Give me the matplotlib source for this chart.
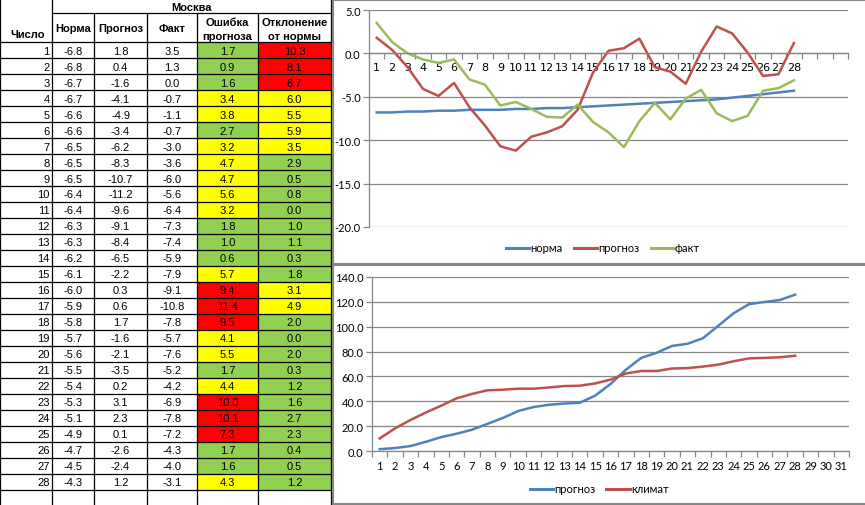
import matplotlib
matplotlib.use("Agg")
import matplotlib.pyplot as plt
from matplotlib.patches import Rectangle
from matplotlib.lines import Line2D

# ---------------- data ----------------
days = list(range(1, 29))
norm = [-6.8, -6.8, -6.7, -6.7, -6.6, -6.6, -6.5, -6.5, -6.5, -6.4, -6.4, -6.3, -6.3, -6.2,
        -6.1, -6.0, -5.9, -5.8, -5.7, -5.6, -5.5, -5.4, -5.3, -5.1, -4.9, -4.7, -4.5, -4.3]
forecast = [1.8, 0.4, -1.6, -4.1, -4.9, -3.4, -6.2, -8.3, -10.7, -11.2, -9.6, -9.1, -8.4, -6.5,
            -2.2, 0.3, 0.6, 1.7, -1.6, -2.1, -3.5, 0.2, 3.1, 2.3, 0.1, -2.6, -2.4, 1.2]
fact = [3.5, 1.3, 0.0, -0.7, -1.1, -0.7, -3.0, -3.6, -6.0, -5.6, -6.4, -7.3, -7.4, -5.9,
        -7.9, -9.1, -10.8, -7.8, -5.7, -7.6, -5.2, -4.2, -6.9, -7.8, -7.2, -4.3, -4.0, -3.1]
error = [1.7, 0.9, 1.6, 3.4, 3.8, 2.7, 3.2, 4.7, 4.7, 5.6, 3.2, 1.8, 1.0, 0.6,
         5.7, 9.4, 11.4, 9.5, 4.1, 5.5, 1.7, 4.4, 10.0, 10.1, 7.3, 1.7, 1.6, 4.3]
deviation = [10.3, 8.1, 6.7, 6.0, 5.5, 5.9, 3.5, 2.9, 0.5, 0.8, 0.0, 1.0, 1.1, 0.3,
             1.8, 3.1, 4.9, 2.0, 0.0, 2.0, 0.3, 1.2, 1.6, 2.7, 2.3, 0.4, 0.5, 1.2]
cum_forecast = [1.7, 2.6, 4.2, 7.6, 11.4, 14.1, 17.3, 22.0, 26.7, 32.3, 35.5, 37.3, 38.3, 38.9,
                44.6, 54.0, 65.4, 74.9, 79.0, 84.5, 86.2, 90.6, 100.6, 110.7, 118.0, 119.7, 121.3, 125.6]
cum_climate = [10.3, 18.4, 25.1, 31.1, 36.6, 42.5, 46.0, 48.9, 49.4, 50.2, 50.2, 51.2, 52.3, 52.6,
               54.4, 57.5, 62.4, 64.4, 64.4, 66.4, 66.7, 67.9, 69.5, 72.2, 74.5, 74.9, 75.4, 76.6]
categories = [str(i) for i in range(1, 32)]
top_labels = categories[:28] + ["", "", ""]

title = "Москва"
headers = ["Число", "Норма", "Прогноз", "Факт", "Ошибка\nпрогноза", "Отклонение\nот нормы"]
legend_top = ["норма", "прогноз", "факт"]
legend_bottom = ["прогноз", "климат"]

# ---------------- style ----------------
BLUE, RED, GREEN = "#4F81BD", "#C0504D", "#9BBB59"
GRID = "#868686"
C_GREEN, C_YELLOW, C_RED = "#92D050", "#FFFF00", "#FF0000"
TFONT = "Liberation Sans"
CFONT = "Lato"
CSIZE = 8
W, H = 865, 506

fig = plt.figure(figsize=(W / 100, H / 100), dpi=100)
fig.patch.set_facecolor("white")

# ---------------- table (pixel coords) ----------------
tab = fig.add_axes([0, 0, 1, 1])
tab.set_xlim(0, W)
tab.set_ylim(H, 0)
tab.axis("off")

cols = [0, 52, 94, 147, 197, 258, 331]
top0, top1, row0, rh = 0, 14, 43, 16
nrows = len(days)


def cell_color(v):
    if v < 3:
        return C_GREEN
    if v <= 6:
        return C_YELLOW
    return C_RED


for i in range(nrows):
    y = row0 + i * rh
    tab.add_patch(Rectangle((cols[4], y), cols[5] - cols[4], rh, facecolor=cell_color(error[i]),
                            edgecolor="none", zorder=1))
    tab.add_patch(Rectangle((cols[5], y), cols[6] - cols[5], rh, facecolor=cell_color(deviation[i]),
                            edgecolor="none", zorder=1))
    yc = y + rh / 2 + 0.5
    tab.text(cols[1] - 2.5, yc, str(days[i]), ha="right", va="center", fontsize=8, family=TFONT, zorder=3)
    vals = [norm[i], forecast[i], fact[i], error[i], deviation[i]]
    for j, v in enumerate(vals):
        xc = (cols[j + 1] + cols[j + 2]) / 2
        tab.text(xc, yc, f"{v:.1f}", ha="center", va="center", fontsize=8, family=TFONT, zorder=3)

lw = 0.9
bottom_y = H
for k, x in enumerate(cols):
    y_start = 0 if k in (0, 1, 6) else top1
    tab.plot([x, x], [y_start, bottom_y], color="black", lw=lw, zorder=2, solid_capstyle="butt")
tab.plot([cols[1], cols[6]], [top1, top1], color="black", lw=lw, zorder=2)
for i in range(nrows + 1):
    y = row0 + i * rh
    tab.plot([cols[0], cols[6]], [y, y], color="black", lw=lw, zorder=2)

tab.text((cols[1] + cols[6]) / 2, 7.5, title, ha="center", va="center", fontsize=8,
         fontweight="bold", family=TFONT)
tab.text(10, 35, headers[0], ha="left", va="center", fontsize=8, fontweight="bold", family=TFONT)
for j in range(1, 4):
    tab.text((cols[j] + cols[j + 1]) / 2, 29, headers[j], ha="center", va="center", fontsize=8,
             fontweight="bold", family=TFONT)
for j in (4, 5):
    l1, l2 = headers[j].split("\n")
    xc = (cols[j] + cols[j + 1]) / 2
    tab.text(xc, 23, l1, ha="center", va="center", fontsize=8, fontweight="bold", family=TFONT)
    tab.text(xc, 36.5, l2, ha="center", va="center", fontsize=8, fontweight="bold", family=TFONT)

# chart frames
tab.add_patch(Rectangle((333, 0.5), 540, 264.5, facecolor="white", edgecolor=GRID, lw=1.5, zorder=4))
tab.add_patch(Rectangle((333, 265.5), 540, 239, facecolor="white", edgecolor=GRID, lw=1.5, zorder=4))

x_all = list(range(1, 32))


def style_axes(ax):
    for s in ("top", "right"):
        ax.spines[s].set_visible(False)
    for s in ("left", "bottom"):
        ax.spines[s].set_color(GRID)
        ax.spines[s].set_linewidth(0.9)
    ax.set_facecolor("none")
    ax.set_xlim(0.5, 31.5)
    ax.set_xticks(x_all)
    ax.set_xticks([b + 0.5 for b in range(0, 32)], minor=True)
    ax.tick_params(axis="x", which="major", length=0, labelsize=CSIZE)
    ax.tick_params(axis="x", which="minor", length=4, direction="out", color=GRID, width=0.9)
    ax.tick_params(axis="y", which="major", length=4, direction="out", color=GRID, width=0.9,
                   labelsize=CSIZE, pad=2)
    ax.grid(axis="y", color=GRID, lw=0.9)
    ax.set_axisbelow(True)


def set_fonts(ax):
    for lab in ax.get_xticklabels() + ax.get_yticklabels():
        lab.set_family(CFONT)


# ---------------- top chart ----------------
ax1 = fig.add_axes([369 / W, 1 - 228 / H, (848 - 369) / W, 217 / H])
ax1.set_zorder(5)
style_axes(ax1)
ax1.set_ylim(-20, 5)
yt = [-20, -15, -10, -5, 0, 5]
ax1.set_yticks(yt)
ax1.set_yticklabels([f"{v:.1f}" for v in yt])
ax1.set_xticklabels(top_labels)
set_fonts(ax1)
ax1.spines["bottom"].set_position(("data", 0))
ax1.tick_params(axis="x", which="major", pad=6.5)
ax1.plot(days, norm, color=BLUE, lw=1.8, solid_joinstyle="round")
ax1.plot(days, forecast, color=RED, lw=1.8, solid_joinstyle="round")
ax1.plot(days, fact, color=GREEN, lw=1.8, solid_joinstyle="round")

h1 = [Line2D([], [], color=c, lw=2.2) for c in (BLUE, RED, GREEN)]
leg1 = fig.legend(h1, legend_top, loc="center", bbox_to_anchor=(603 / W, 1 - 249 / H), ncol=3,
                  frameon=False, prop={"family": CFONT, "size": CSIZE}, handlelength=2.1,
                  handletextpad=0.1, columnspacing=1.0)
leg1.set_zorder(6)

# ---------------- bottom chart ----------------
ax2 = fig.add_axes([372 / W, 1 - 452.3 / H, (849 - 372) / W, 174.6 / H])
ax2.set_zorder(5)
style_axes(ax2)
ax2.set_ylim(0, 140)
yt2 = list(range(0, 141, 20))
ax2.set_yticks(yt2)
ax2.set_yticklabels([f"{v:.1f}" for v in yt2])
ax2.set_xticklabels(categories)
set_fonts(ax2)
ax2.tick_params(axis="x", which="major", pad=6)
ax2.plot(days, cum_forecast, color=BLUE, lw=1.8, solid_joinstyle="round")
ax2.plot(days, cum_climate, color=RED, lw=1.8, solid_joinstyle="round")

h2 = [Line2D([], [], color=c, lw=2.2) for c in (BLUE, RED)]
leg2 = fig.legend(h2, legend_bottom, loc="center", bbox_to_anchor=(599 / W, 1 - 490 / H), ncol=2,
                  frameon=False, prop={"family": CFONT, "size": CSIZE}, handlelength=2.1,
                  handletextpad=0.1, columnspacing=1.0)
leg2.set_zorder(6)

fig.savefig("out.png", dpi=100)
